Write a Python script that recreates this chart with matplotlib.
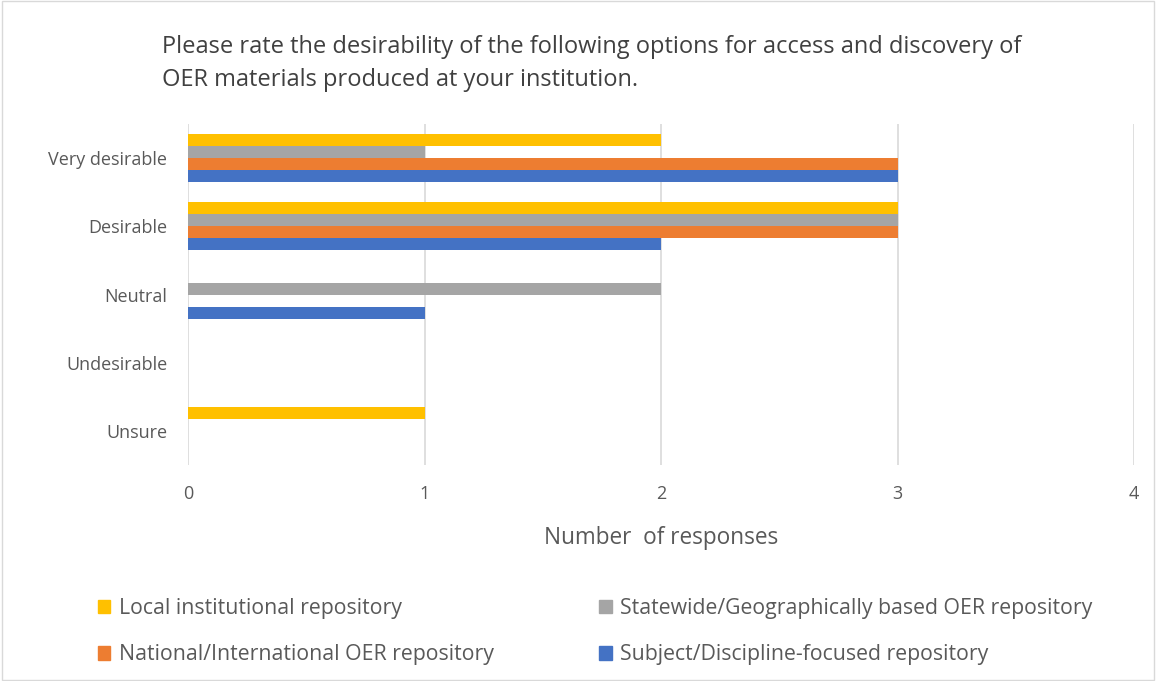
import numpy as np
import matplotlib.pyplot as plt
from matplotlib.patches import Patch

plt.rcParams['font.family'] = ['Open Sans', 'DejaVu Sans']

categories = ["Very desirable", "Desirable", "Neutral", "Undesirable", "Unsure"]
series_names = [
    "Local institutional repository",
    "Statewide/Geographically based OER repository",
    "National/International OER repository",
    "Subject/Discipline-focused repository",
]
local_vals = [2, 3, 0, 0, 1]
statewide_vals = [1, 3, 2, 0, 0]
national_vals = [3, 3, 0, 0, 0]
subject_vals = [3, 2, 1, 0, 0]
colors = ["#FFC000", "#A5A5A5", "#ED7D31", "#4472C4"]

title = ("Please rate the desirability of the following options for access and discovery of\n"
         "OER materials produced at your institution.")

fig = plt.figure(figsize=(11.56, 6.81), dpi=100)
fig.patches.append(plt.Rectangle((0.002, 0.002), 0.996, 0.996, transform=fig.transFigure,
                                 fill=False, edgecolor="#D9D9D9", linewidth=1))
ax = fig.add_axes([0.1626, 0.317, 0.8186, 0.501])

y = np.arange(len(categories))
h = 0.176
all_vals = [local_vals, statewide_vals, national_vals, subject_vals]
for i, (vals, c) in enumerate(zip(all_vals, colors)):
    ax.barh(y + (i - 1.5) * h, vals, height=h, color=c, zorder=3)

ax.set_ylim(4.5, -0.5)
ax.set_xlim(0, 4)
ax.set_yticks(y)
ax.set_yticklabels(categories, fontsize=13, color="#595959")
ax.set_xticks([0, 1, 2, 3, 4])
ax.tick_params(axis="x", labelsize=13, colors="#595959", length=0, pad=14)
ax.tick_params(axis="y", length=0, pad=15)
ax.grid(axis="x", color="#D9D9D9", linewidth=1.2, zorder=0)
for s in ax.spines.values():
    s.set_visible(False)
ax.set_xlabel("Number  of responses", fontsize=16.3, color="#595959", labelpad=17)

fig.text(0.14, 0.949, title, fontsize=17, color="#404040", ha="left", va="top", linespacing=1.5)

handles = [Patch(color=c) for c in colors]
order = [0, 2, 1, 3]
fig.legend([handles[k] for k in order], [series_names[k] for k in order],
           ncol=2, loc="upper left", bbox_to_anchor=(0.068, 0.15), frameon=False,
           fontsize=15.3, labelcolor="#595959", handlelength=0.6, handleheight=0.6,
           handletextpad=0.4, columnspacing=4.95, labelspacing=1.2)

fig.savefig("out.png", dpi=100)
